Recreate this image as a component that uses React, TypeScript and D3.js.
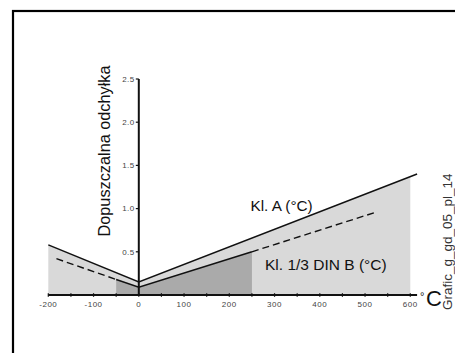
import React from "react";
import * as d3 from "d3";

const W = 455;
const H = 353;

// Data (temperature °C, tolerance °C)
const classA_fill: [number, number][] = [[-200, 0.58], [0, 0.15], [600, 1.37]];
const classA_line: [number, number][] = [[-200, 0.58], [0, 0.15], [615, 1.4]];
const classB_dashLeft: [number, number][] = [[-182, 0.42], [-50, 0.18]];
const classB_solid: [number, number][] = [[-50, 0.18], [0, 0.09], [250, 0.5]];
const classB_dashRight: [number, number][] = [[250, 0.5], [525, 0.96]];
const xTickLabels = [-200, -100, 0, 100, 200, 300, 400, 500, 600];
const xMinorTicks = d3.range(-200, 601, 50);
const yTickLabels = [0.5, 1.0, 1.5, 2.0, 2.5];

const x = d3.scaleLinear().domain([-200, 600]).range([48.3, 410.3]);
const y = d3.scaleLinear().domain([0, 2.5]).range([295, 79]);

const font = "'Liberation Sans', Arial, Helvetica, sans-serif";

export default function App() {
  const area = d3
    .area<[number, number]>()
    .x((d) => x(d[0]))
    .y0(y(0))
    .y1((d) => y(d[1]));
  const line = d3
    .line<[number, number]>()
    .x((d) => x(d[0]))
    .y((d) => y(d[1]));

  return (
    <svg
      width={W}
      height={H}
      style={{ position: "absolute", left: 0, top: 0, background: "#fff" }}
    >
      <rect x={13} y={11} width={470} height={370} fill="none" stroke="#000" strokeWidth={2.2} />

      {/* fills */}
      <path d={area(classA_fill) || ""} fill="#d9d9d9" />
      <path d={area(classB_solid) || ""} fill="#aaaaaa" />

      {/* class A */}
      <path d={line(classA_line) || ""} fill="none" stroke="#111" strokeWidth={1.5} />
      {/* class 1/3 DIN B */}
      <path d={line(classB_dashLeft) || ""} fill="none" stroke="#111" strokeWidth={1.4} strokeDasharray="7,4" />
      <path d={line(classB_solid) || ""} fill="none" stroke="#111" strokeWidth={1.5} />
      <path d={line(classB_dashRight) || ""} fill="none" stroke="#111" strokeWidth={1.4} strokeDasharray="7,4" />

      {/* x axis */}
      <line x1={x(-200)} x2={x(615)} y1={y(0)} y2={y(0)} stroke="#111" strokeWidth={2} />
      {xMinorTicks.map((t) => (
        <line key={t} x1={x(t)} x2={x(t)} y1={y(0) - 1.8} y2={y(0) + 1.8} stroke="#111" strokeWidth={1.2} />
      ))}
      {xTickLabels.map((t) => (
        <text
          key={t}
          x={x(t)}
          y={307}
          textAnchor="middle"
          fontFamily={font}
          fontSize={8}
          letterSpacing={0.5}
          fill="#444"
        >
          {t}
        </text>
      ))}

      {/* y axis */}
      <line x1={x(0)} x2={x(0)} y1={y(2.5)} y2={y(0)} stroke="#111" strokeWidth={2} />
      {yTickLabels.map((t) => (
        <g key={t}>
          <line x1={x(0) - 3} x2={x(0)} y1={y(t)} y2={y(t)} stroke="#111" strokeWidth={1.2} />
          <text
            x={x(0) - 4}
            y={y(t) + 2.8}
            textAnchor="end"
            fontFamily={font}
            fontSize={8}
            letterSpacing={0.5}
            fill="#444"
          >
            {t.toFixed(1)}
          </text>
        </g>
      ))}

      {/* titles */}
      <text
        transform={`translate(110,151) rotate(-90)`}
        textAnchor="middle"
        fontFamily={font}
        fontSize={16.3}
        fill="#111"
      >
        Dopuszczalna odchyłka
      </text>
      <text x={250.5} y={210.5} fontFamily={font} fontSize={15.3} fill="#111">
        Kl. A (°C)
      </text>
      <text x={265} y={270} fontFamily={font} fontSize={15.5} fill="#111">
        Kl. 1/3 DIN B (°C)
      </text>
      <text x={420} y={300} fontFamily={font} fontSize={11} fill="#111">
        °
      </text>
      <text x={426} y={306} fontFamily={font} fontSize={22} fill="#111">
        C
      </text>
      <text
        transform={`translate(451.5,310) rotate(-90)`}
        textAnchor="start"
        fontFamily={font}
        fontSize={13.5}
        fill="#333"
      >
        Grafic_g_gd_05_pl_14
      </text>
    </svg>
  );
}
